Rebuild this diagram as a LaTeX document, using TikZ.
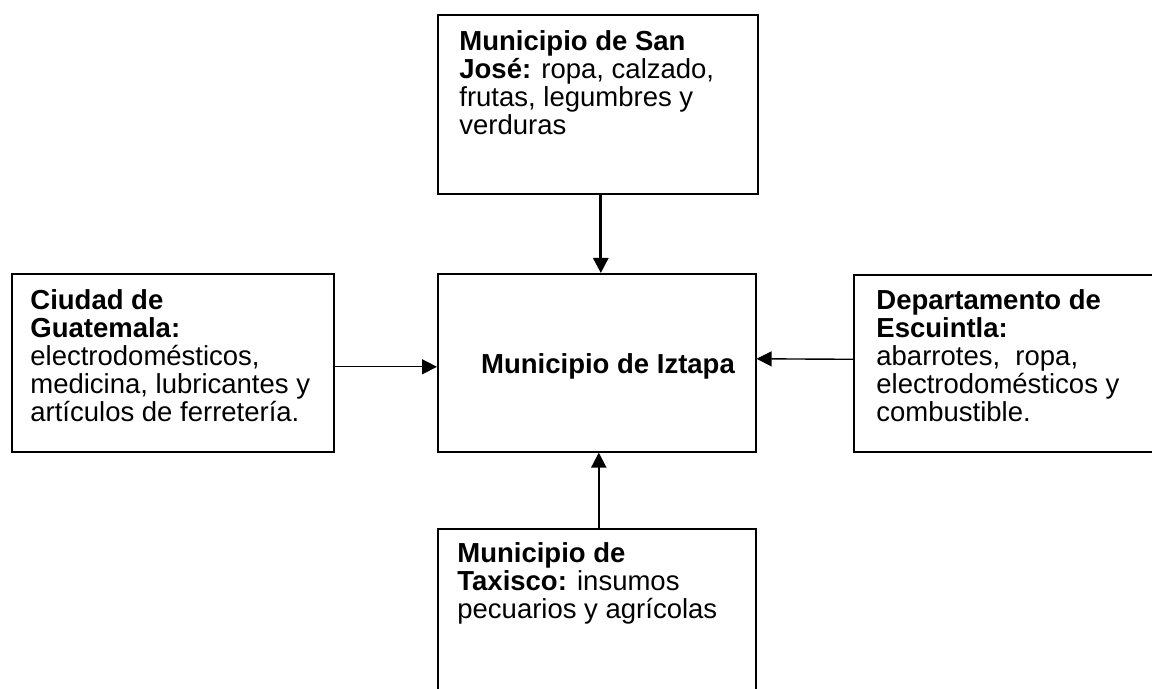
\documentclass[tikz,border=0pt]{standalone}
\usepackage{fontspec}
\setmainfont{Liberation Sans}
\usetikzlibrary{arrows.meta}
\begin{document}
\begin{tikzpicture}[x=0.5pt,y=-0.5pt,
  box/.style={draw, line width=0.8pt, inner sep=0pt, anchor=north west},
  txt/.style={anchor=north west, inner sep=0pt, align=left,
    font=\fontsize{13.75}{14}\selectfont},
  arr/.style={-{Triangle[length=7.5pt,width=7.5pt]}, line width=0.7pt}]
\useasboundingbox (0,0) rectangle (1152,689);
\clip (0,0) rectangle (1152,689);
% boxes
\node[box, minimum width=160pt, minimum height=89.5pt] (sj) at (437,14) {};
\node[box, minimum width=159pt, minimum height=89pt] (iz) at (437,273) {};
\node[box, minimum width=161pt, minimum height=89pt] (gu) at (11,273) {};
\node[box, minimum width=160pt, minimum height=88.5pt] (es) at (853,274) {};
\node[box, minimum width=159pt, minimum height=96pt] (tx) at (437,528) {};
% texts
\node[txt] (sjt) at (459,26) {\rule{0pt}{12pt}\textbf{Municipio de San}\\\textbf{José:} ropa, calzado,\\frutas, legumbres y\\verduras};
\node[txt] (gut) at (30,285) {\rule{0pt}{12pt}\textbf{Ciudad de}\\\textbf{Guatemala:}\\electrodomésticos,\\medicina, lubricantes y\\artículos de ferretería.};
\node[txt] (est) at (876,285) {\rule{0pt}{12pt}\textbf{Departamento de}\\\textbf{Escuintla:}\\abarrotes, \ ropa,\\electrodomésticos y\\combustible.};
\node[txt] (txt) at (457,538) {\rule{0pt}{12pt}\textbf{Municipio de}\\\textbf{Taxisco:} insumos\\pecuarios y agrícolas};
\node[anchor=base, inner sep=0pt, font=\fontsize{13.75}{14}\selectfont\bfseries] (izt) at (608,374) {Municipio de Iztapa};
% connectors
\draw[arr, line width=1.4pt] ([xshift=1.5pt]sj.south) -- ([xshift=2pt]iz.north);
\draw[arr] ([yshift=-2pt]gu.east) -- ([yshift=-2pt]iz.west);
\draw[arr] ([yshift=2pt]es.west) -- ([yshift=2pt]iz.east);
\draw[arr, line width=1pt] ([xshift=1pt]tx.north) -- ([xshift=1pt]iz.south);
\end{tikzpicture}
\end{document}
